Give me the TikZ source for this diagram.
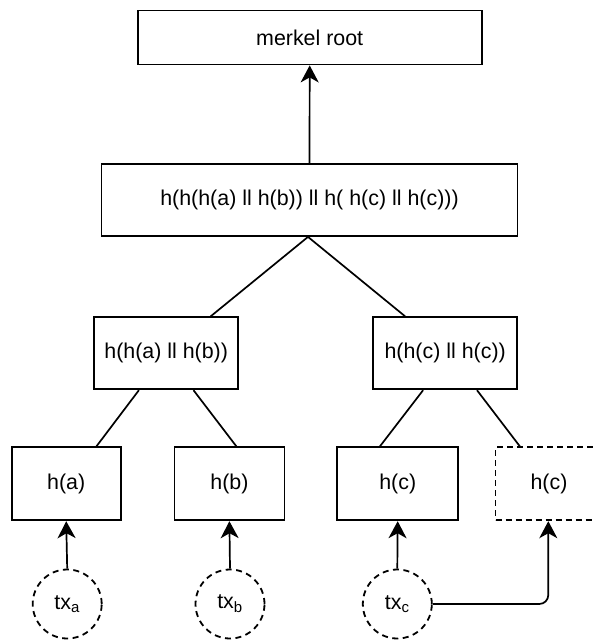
\documentclass[tikz,border=0pt]{standalone}
\usepackage{fontspec}
\setmainfont{Liberation Sans}
\usetikzlibrary{arrows.meta}
\begin{document}
\begin{tikzpicture}[x=1pt,y=-1pt,
  box/.style={draw, line width=1.8pt, rectangle, inner sep=0pt, font=\fontsize{21.4}{25}\selectfont},
  dbox/.style={box, dash pattern=on 6pt off 4pt},
  txc/.style={draw, circle, line width=1.8pt, dash pattern=on 6pt off 4.5pt, minimum size=69pt, inner sep=0pt, font=\fontsize{21.4}{25}\selectfont},
  link/.style={line width=1.7pt},
  arr/.style={line width=1.7pt, -{Stealth[length=17pt,width=18pt,inset=5pt]}}]
\clip (0,0) rectangle (595,640);
\fill[white] (0,0) rectangle (595,640);

\node[box, minimum width=344pt, minimum height=54pt] (root) at (309.7,37.5) {merkel root};
\node[box, minimum width=416pt, minimum height=72pt] (top) at (309.5,200) {h(h(h(a) ll h(b)) ll h( h(c) ll h(c)))};
\node[box, minimum width=144pt, minimum height=72pt] (m1) at (166.2,353.3) {h(h(a) ll h(b))};
\node[box, minimum width=144pt, minimum height=72pt] (m2) at (445.2,353.3) {h(h(c) ll h(c))};
\node[box, minimum width=109pt, minimum height=73pt] (ha) at (66.2,483.8) {h(a)};
\node[box, minimum width=110pt, minimum height=73pt] (hb) at (229.4,483.8) {h(b)};
\node[box, minimum width=121pt, minimum height=73pt] (hc) at (397.7,483.8) {h(c)};
\node[dbox, minimum width=107pt, minimum height=73pt] (hd) at (549,483.8) {h(c)};

\node[txc] (txa) at (67.2,604) {tx\textsubscript{a}};
\node[txc] (txb) at (230,604) {tx\textsubscript{b}};
\node[txc] (txcn) at (397.3,604) {tx\textsubscript{c}};

\draw[arr] (top.north) -- (root.south);
\draw[link] ([xshift=-1.5pt]top.south) -- ([xshift=44.4pt]m1.north);
\draw[link] ([xshift=-1.5pt]top.south) -- ([xshift=-40pt]m2.north);
\draw[link] ([xshift=-27.3pt]m1.south) -- ([xshift=30.2pt]ha.north);
\draw[link] ([xshift=27.3pt]m1.south) -- ([xshift=7pt]hb.north);
\draw[link] ([xshift=-22.1pt]m2.south) -- ([xshift=-17.8pt]hc.north);
\draw[link] ([xshift=31.8pt]m2.south) -- ([xshift=-29.1pt]hd.north);

\draw[arr] (txa.north) -- (ha.south);
\draw[arr] (txb.north) -- (hb.south);
\draw[arr] (txcn.north) -- (hc.south);
\draw[arr, rounded corners=9pt] (txcn.east) -| ([xshift=-0.7pt]hd.south);
\end{tikzpicture}
\end{document}
